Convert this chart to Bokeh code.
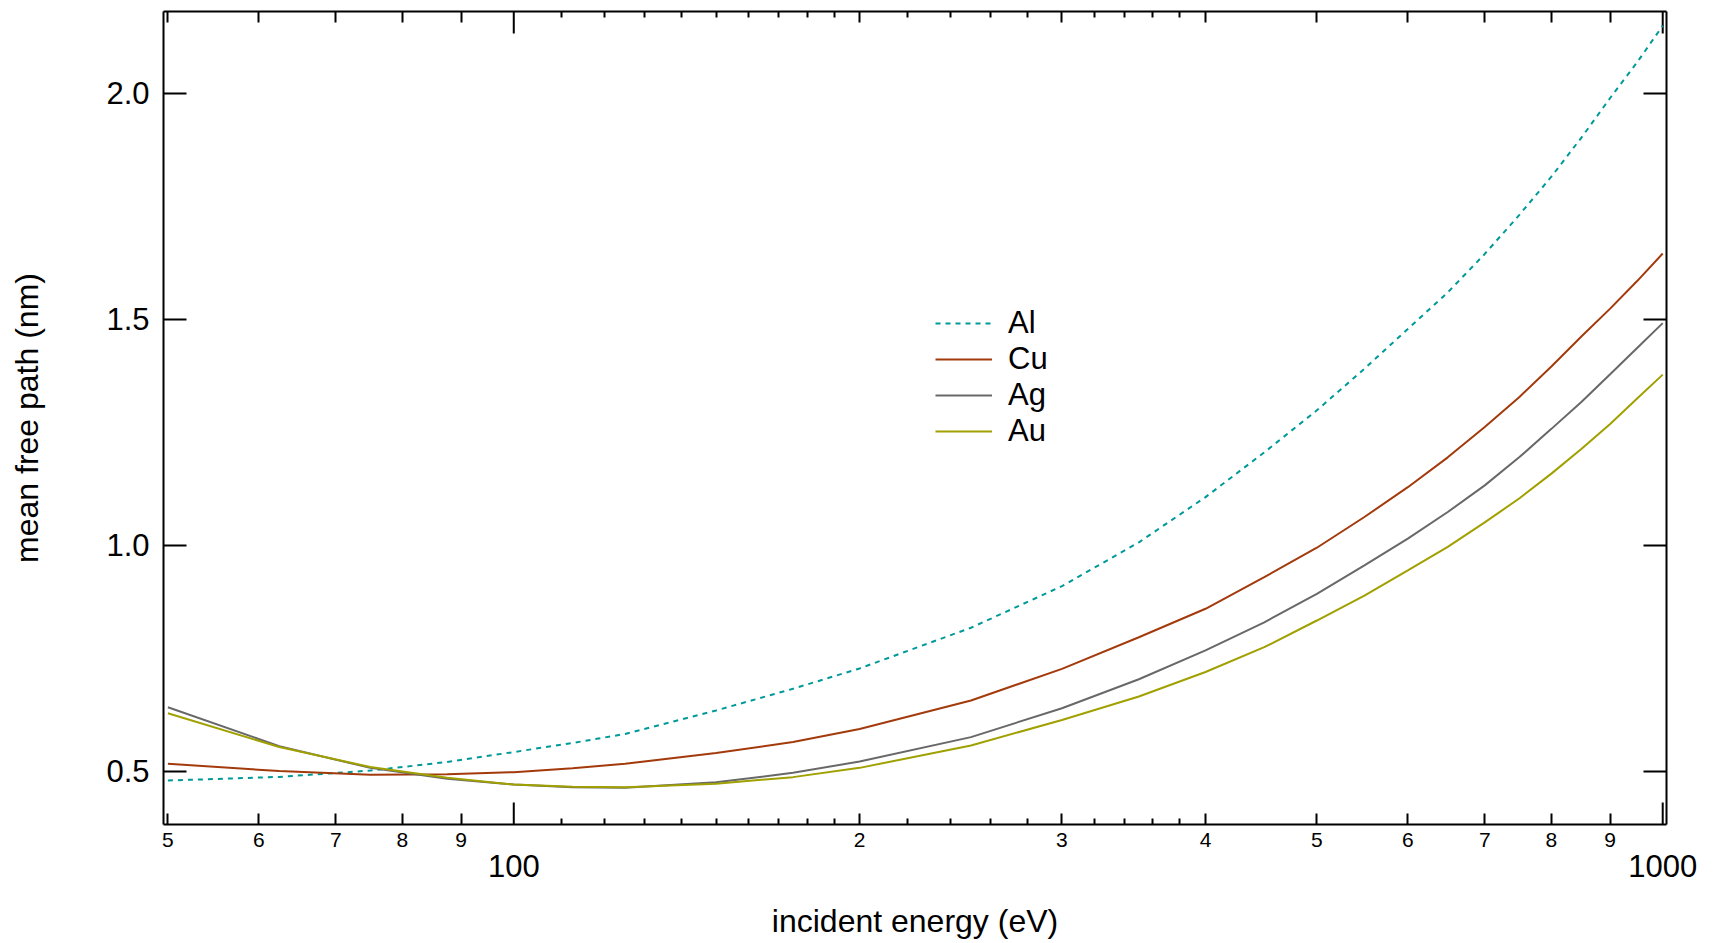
import numpy as np
from bokeh.plotting import figure
from bokeh.models import (LogAxis, LinearAxis, FixedTicker, Range1d, Legend,
                          LegendItem, NumeralTickFormatter)
from bokeh.embed import file_html
from bokeh.resources import INLINE

# ---------------- data ----------------
energy = [50, 62.5, 75, 87.5, 100, 112.5, 125, 150, 175, 200, 250, 300, 350,
          400, 450, 500, 550, 600, 650, 700, 750, 800, 850, 900, 950, 1000]
al = [0.480, 0.488, 0.502, 0.521, 0.543, 0.563, 0.583, 0.635, 0.683, 0.728,
      0.818, 0.910, 1.007, 1.107, 1.206, 1.299, 1.391, 1.479, 1.560, 1.645,
      1.731, 1.816, 1.903, 1.990, 2.069, 2.150]
cu = [0.517, 0.501, 0.493, 0.494, 0.4985, 0.507, 0.517, 0.541, 0.565, 0.594,
      0.657, 0.727, 0.797, 0.860, 0.930, 0.995, 1.063, 1.129, 1.195, 1.262,
      1.328, 1.396, 1.463, 1.524, 1.585, 1.646]
ag = [0.642, 0.556, 0.508, 0.484, 0.471, 0.465, 0.464, 0.476, 0.497, 0.522,
      0.576, 0.640, 0.704, 0.768, 0.830, 0.893, 0.956, 1.015, 1.074, 1.133,
      1.195, 1.258, 1.318, 1.379, 1.437, 1.492]
au = [0.629, 0.554, 0.510, 0.486, 0.471, 0.466, 0.465, 0.473, 0.4875, 0.508,
      0.5575, 0.614, 0.666, 0.720, 0.775, 0.834, 0.889, 0.945, 0.997, 1.051,
      1.104, 1.159, 1.214, 1.269, 1.325, 1.378]
series_names = ["Al", "Cu", "Ag", "Au"]

# axis ticks
x_long_ticks = [100, 1000]
x_long_labels = ["100", "1000"]
x_mid_ticks = [50, 60, 70, 80, 90, 200, 300, 400, 500, 600, 700, 800, 900]
x_mid_labels = ["5", "6", "7", "8", "9", "2", "3", "4", "5", "6", "7", "8", "9"]
x_small_ticks = [110, 120, 130, 140, 150, 160, 170, 180, 190,
                 220, 240, 260, 280, 320, 340, 360, 380]
y_ticks = [0.5, 1.0, 1.5, 2.0]
x_lim = (49.56, 1007.6)
y_lim = (0.3827, 2.1814)

FONT = "Liberation Sans"
colors = ["#009999", "#a33a0c", "#686868", "#a0a000"]
dashes = ["5 5", "solid", "solid", "solid"]

p = figure(x_axis_type="log", x_range=Range1d(*x_lim), y_range=Range1d(*y_lim),
           frame_width=1503, frame_height=813, output_backend="svg",
           toolbar_location=None, min_border_left=163, min_border_right=32,
           min_border_top=11, min_border_bottom=0)
p.grid.visible = False
p.outline_line_color = None
p.background_fill_color = "white"

# ---------------- bottom axis (ticks + small labels) ----------------
xa = p.xaxis[0]
xa.ticker = FixedTicker(ticks=x_mid_ticks, minor_ticks=x_small_ticks)
xa.major_label_overrides = {t: l for t, l in zip(x_mid_ticks, x_mid_labels)}
xa.major_tick_in = 11
xa.major_tick_out = 0
xa.minor_tick_in = 6
xa.minor_tick_out = 0
xa.major_tick_line_width = 2
xa.minor_tick_line_width = 2
xa.axis_line_width = 2
xa.major_label_text_font = FONT
xa.major_label_text_font_size = "21px"
xa.major_label_text_color = "black"
xa.major_label_standoff = 8

# second row of labels: 100, 1000 and the axis title
xb = LogAxis(ticker=FixedTicker(ticks=x_long_ticks, minor_ticks=[]),
             major_label_overrides={t: l for t, l in zip(x_long_ticks, x_long_labels)},
             axis_line_color=None, major_tick_line_color=None,
             minor_tick_line_color=None, major_tick_in=0, major_tick_out=0,
             major_label_standoff=5, major_label_text_font=FONT,
             major_label_text_font_size="31px", major_label_text_color="black",
             axis_label="incident energy (eV)", axis_label_text_font=FONT,
             axis_label_text_font_size="32px", axis_label_text_font_style="normal",
             axis_label_text_color="black", axis_label_standoff=23)
p.add_layout(xb, "below")

# top mirror axis (ticks only)
xt = LogAxis(ticker=FixedTicker(ticks=x_mid_ticks, minor_ticks=x_small_ticks),
             major_tick_in=11, major_tick_out=0, minor_tick_in=6, minor_tick_out=0,
             major_tick_line_width=2, minor_tick_line_width=2, axis_line_width=2,
             major_label_text_color=None, major_label_text_font_size="1px",
             major_label_standoff=0)
p.add_layout(xt, "above")

# ---------------- left axis ----------------
ya = p.yaxis[0]
ya.ticker = FixedTicker(ticks=y_ticks, minor_ticks=[])
ya.formatter = NumeralTickFormatter(format="0.0")
ya.major_tick_in = 23
ya.major_tick_out = 0
ya.major_tick_line_width = 2
ya.axis_line_width = 2
ya.major_label_text_font = FONT
ya.major_label_text_font_size = "31px"
ya.major_label_text_color = "black"
ya.major_label_standoff = 14
ya.axis_label = "mean free path (nm)"
ya.axis_label_text_font = FONT
ya.axis_label_text_font_size = "32px"
ya.axis_label_text_font_style = "normal"
ya.axis_label_text_color = "black"
ya.axis_label_standoff = 58

# right mirror axis (ticks only)
yr = LinearAxis(ticker=FixedTicker(ticks=y_ticks, minor_ticks=[]),
                major_tick_in=23, major_tick_out=0, major_tick_line_width=2,
                axis_line_width=2, major_label_text_color=None,
                major_label_text_font_size="1px", major_label_standoff=0)
p.add_layout(yr, "right")

# long ticks at the decades (100, 1000), bottom and top
p.ray(x=x_long_ticks, y=[y_lim[0]] * len(x_long_ticks), length=22,
      length_units="screen", angle=np.pi / 2, line_width=2, line_color="black")
p.ray(x=x_long_ticks, y=[y_lim[1]] * len(x_long_ticks), length=22,
      length_units="screen", angle=-np.pi / 2, line_width=2, line_color="black")

# ---------------- curves ----------------
items = []
for name, ys, c, d in zip(series_names, [al, cu, ag, au], colors, dashes):
    r = p.line(energy, ys, line_color=c, line_width=2, line_dash=d)
    items.append(LegendItem(label=name, renderers=[r]))

legend = Legend(items=items, location=(772, 375), padding=0, margin=0, spacing=0,
                glyph_width=57, glyph_height=36, label_height=36, label_standoff=16,
                label_text_font=FONT, label_text_font_size="31px",
                label_text_color="black", label_text_baseline="middle",
                border_line_color=None, background_fill_alpha=0)
p.add_layout(legend)

open("out.html", "w").write(file_html(p, INLINE))
